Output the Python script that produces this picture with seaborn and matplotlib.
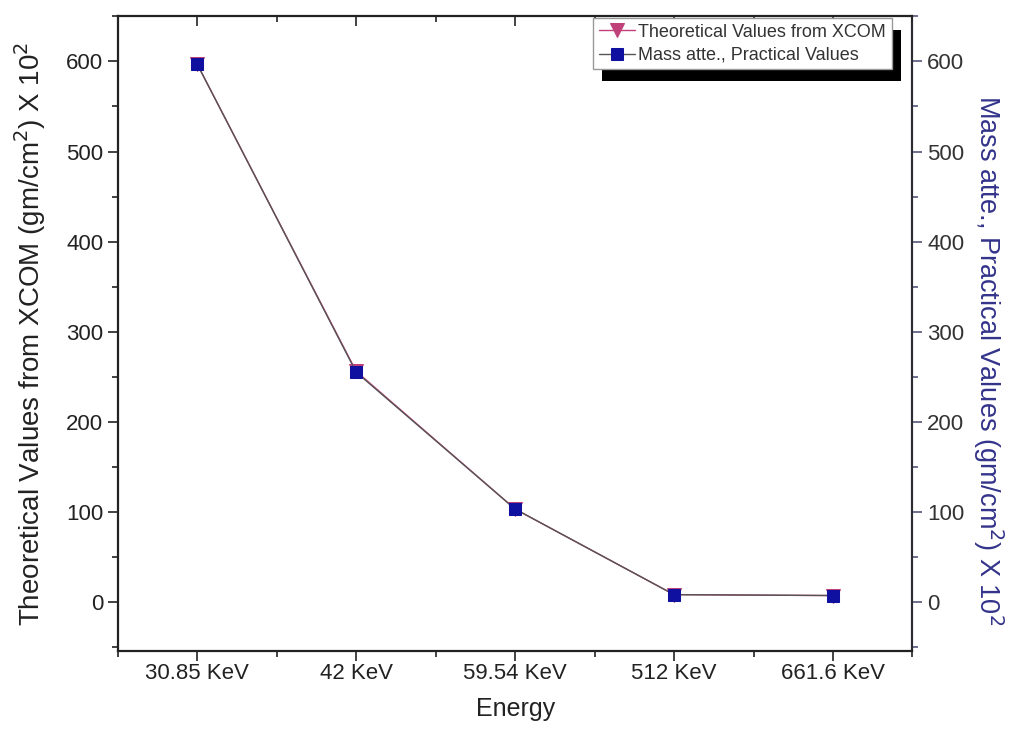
import matplotlib
matplotlib.use("Agg")
import matplotlib.pyplot as plt
import seaborn as sns
import pandas as pd
import numpy as np
from matplotlib.ticker import MultipleLocator
from matplotlib.patches import Rectangle

sns.set_theme(style="white")
plt.rcParams['font.family'] = ['Liberation Sans', 'DejaVu Sans']

energies = ["30.85 KeV", "42 KeV", "59.54 KeV", "512 KeV", "661.6 KeV"]
theoretical = [597, 256, 103, 8, 7]
practical = [597, 255, 103, 8, 7]

df = pd.DataFrame({"pos": np.arange(len(energies)), "energy": energies,
                   "theo": theoretical, "prac": practical})

fig = plt.figure(figsize=(10.15, 7.47), dpi=100)
ax = fig.add_axes([0.116, 0.128, 0.783, 0.85])

sns.lineplot(data=df, x="pos", y="theo", ax=ax, color="#c0407a", lw=1.0,
             marker="v", markersize=10, markeredgecolor="#c0407a",
             label="Theoretical Values from XCOM", zorder=3)
sns.lineplot(data=df, x="pos", y="prac", ax=ax, color="#555555", lw=1.0,
             marker="s", markersize=8.5, markerfacecolor="#1010a0",
             markeredgecolor="#1010a0", label="Mass atte., Practical Values", zorder=4)

ax.set_xlim(-0.5, 4.5)
ax.set_ylim(-55, 650)
ax.set_xticks(df["pos"])
ax.set_xticklabels(energies, fontsize=16, color="#222222")
ax.xaxis.set_minor_locator(MultipleLocator(0.5))
ax.set_yticks([0, 100, 200, 300, 400, 500, 600])
ax.yaxis.set_minor_locator(MultipleLocator(50))
ax.tick_params(axis="y", labelsize=16, labelcolor="#222222")
ax.tick_params(axis="both", which="major", direction="out", length=7, width=1.2, color="#222222",
               bottom=True, left=True, top=False)
ax.tick_params(axis="both", which="minor", direction="out", length=4, width=1.2, color="#222222",
               bottom=True, left=True, top=False)
ax.tick_params(axis="x", which="major", pad=1.5)
ax.set_xlabel("Energy", fontsize=18, color="#222222", labelpad=9)
ax.set_ylabel("Theoretical Values from XCOM (gm/cm$^2$) X 10$^2$", fontsize=20, color="#222222",
              labelpad=13)
for s in ["left", "bottom", "top"]:
    ax.spines[s].set_color("#222222")
    ax.spines[s].set_linewidth(1.6)

# top axis: inward ticks, no labels
sec = ax.secondary_xaxis("top")
sec.set_xticks(df["pos"])
sec.xaxis.set_minor_locator(MultipleLocator(0.5))
sec.tick_params(axis="x", which="major", direction="in", length=7, width=1.2, color="#222222",
                labeltop=False)
sec.tick_params(axis="x", which="minor", direction="in", length=4, width=1.2, color="#222222")
sec.spines["top"].set_visible(False)

ax2 = ax.twinx()
ax2.set_ylim(ax.get_ylim())
ax2.set_yticks([0, 100, 200, 300, 400, 500, 600])
ax2.yaxis.set_minor_locator(MultipleLocator(50))
ax2.tick_params(axis="y", which="major", direction="out", length=7, width=1.2, color="#55557a",
                labelsize=16, labelcolor="#333333")
ax2.tick_params(axis="y", which="minor", direction="out", length=4, width=1.2, color="#55557a")
ax2.spines["right"].set_color("#55557a")
ax2.spines["right"].set_linewidth(1.6)
for s in ["left", "bottom", "top"]:
    ax2.spines[s].set_visible(False)
ax2.set_ylabel("Mass atte., Practical Values (gm/cm$^2$) X 10$^2$", fontsize=19.5, color="#33338a",
               rotation=270, labelpad=30)

leg = ax.legend(loc="upper right", bbox_to_anchor=(0.976, 1.0), fontsize=13, frameon=True,
                fancybox=False, handlelength=2.0, borderpad=0.3, labelspacing=0.35,
                edgecolor="#999999", handletextpad=0.2, borderaxespad=0.1, framealpha=1.0)
leg.get_frame().set_linewidth(1.0)
leg.get_frame().set_facecolor("white")
leg.set_zorder(10)
for t in leg.get_texts():
    t.set_color("#333333")

# hard black shadow behind legend
ax2.set_zorder(ax.get_zorder() - 1)
ax.patch.set_visible(False)
fig.canvas.draw()
# shift the right label down to match the reference's placement
lab = ax2.yaxis.label
lb = lab.get_window_extent()
cx = (lb.x0 + lb.x1) / 2
ax_bb = ax2.get_window_extent()
target_cy = 747 - 360
fx = (cx - ax_bb.x0) / ax_bb.width
fy = (target_cy - ax_bb.y0) / ax_bb.height
lab.set_rotation_mode("anchor")
lab.set_verticalalignment("center")
lab.set_horizontalalignment("center")
ax2.yaxis.set_label_coords(fx, fy)

bb = leg.get_window_extent()
shadow = Rectangle((bb.x0 + 9, bb.y0 - 12), bb.width, bb.height, transform=None,
                   facecolor="black", edgecolor="none", zorder=9)
ax.add_artist(shadow)

fig.savefig("out.png", dpi=100)
